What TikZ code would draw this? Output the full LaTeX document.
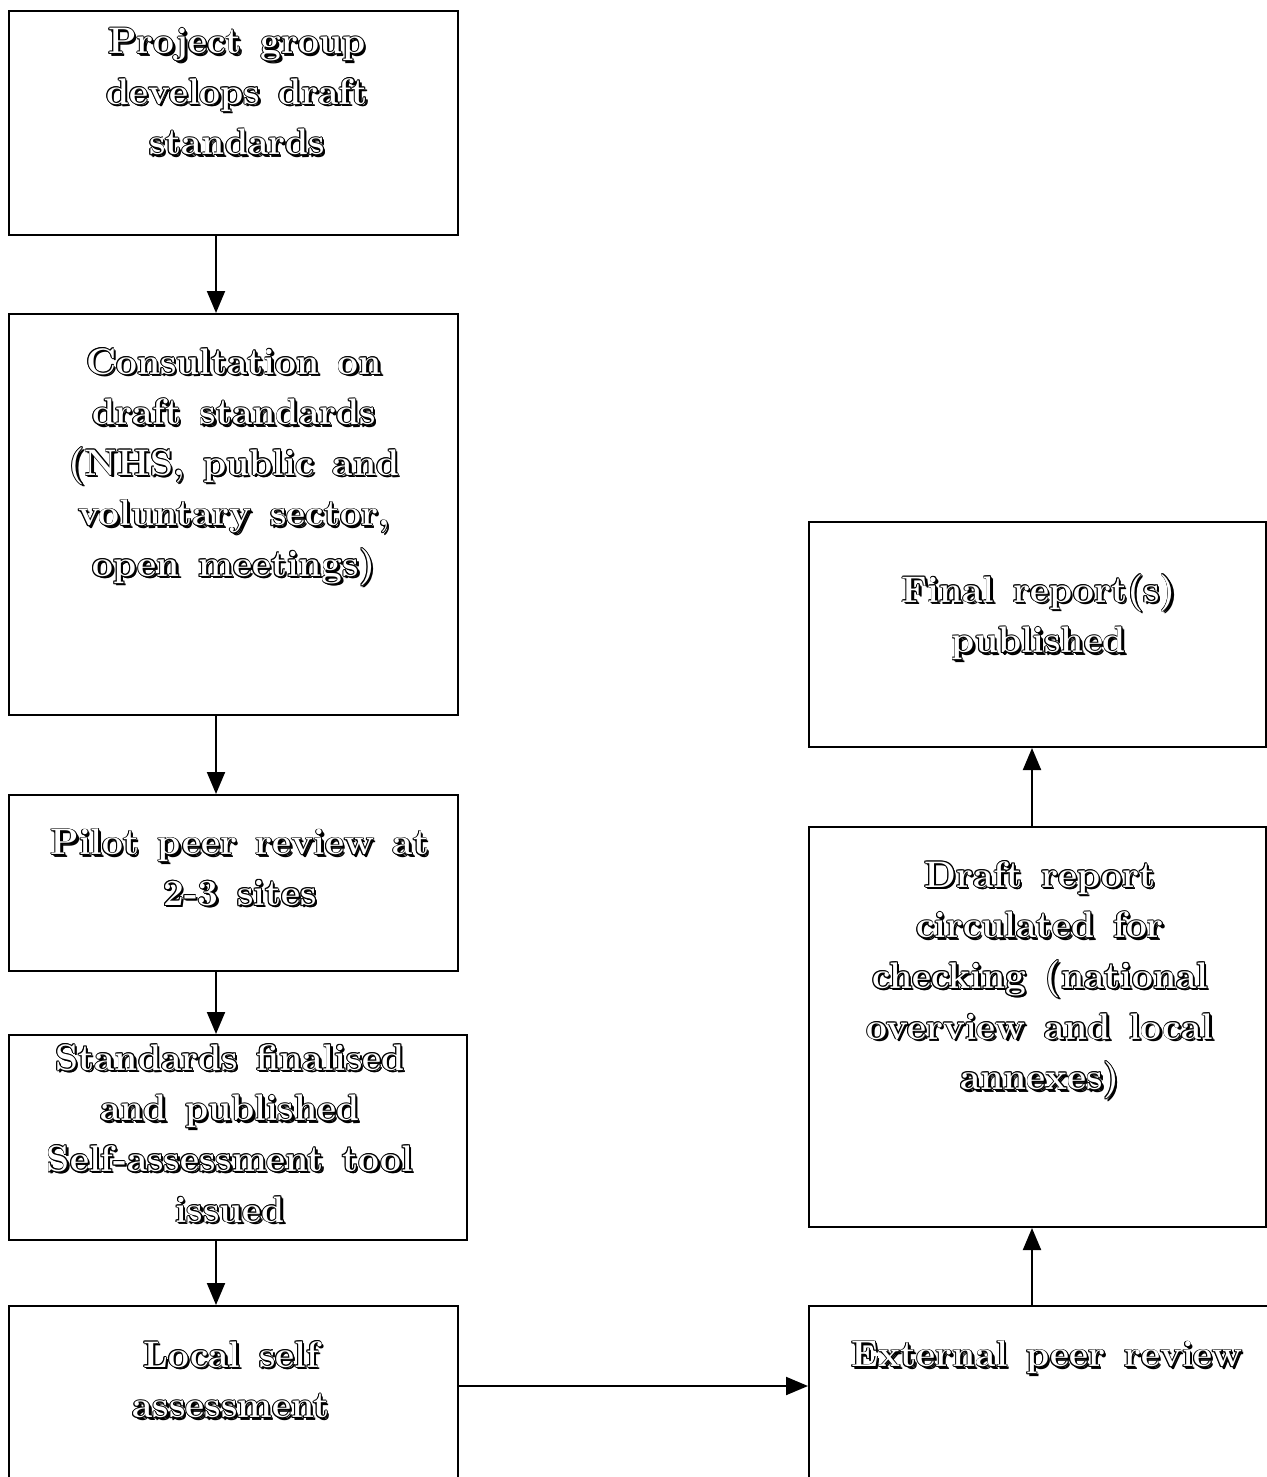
\documentclass[tikz,border=0pt]{standalone}
\usetikzlibrary{arrows.meta}
% one zero-width copy of a text, shifted by #1 across and #2 up
\newcommand\cpy[3]{\makebox[0pt][l]{\hspace*{#1}\raisebox{#2}{#3}}}
% outlined lettering with a drop shadow
\newcommand\olt[1]{{\spaceskip=0.5em plus 0.1em\relax
  \color{black}%
  \cpy{0.9pt}{-0.9pt}{#1}\cpy{1.2pt}{-1.2pt}{#1}%
  \cpy{0.45pt}{0pt}{#1}\cpy{-0.45pt}{0pt}{#1}%
  \cpy{0pt}{0.45pt}{#1}\cpy{0pt}{-0.45pt}{#1}%
  \cpy{0.32pt}{0.32pt}{#1}\cpy{-0.32pt}{0.32pt}{#1}%
  \cpy{0.32pt}{-0.32pt}{#1}\cpy{-0.32pt}{-0.32pt}{#1}%
  \textcolor{white}{#1}}}
\tikzset{
  box/.style={draw, line width=1pt, inner sep=0pt, anchor=north west},
  txt/.style={anchor=north, inner sep=0pt, align=center,
    font=\fontsize{18.5}{25.3}\selectfont\bfseries},
  arr/.style={line width=1pt, -{Triangle[length=11pt,width=9pt]}}
}
\begin{document}
\begin{tikzpicture}[x=0.5pt,y=-0.5pt]
\useasboundingbox (0,0) rectangle (1266,1477);
% boxes of the left column
\node[box, minimum width=224.5pt, minimum height=112pt] (b1) at (8,10) {};
\node[box, minimum width=224.5pt, minimum height=200.5pt] (b2) at (8,313) {};
\node[box, minimum width=224.5pt, minimum height=88pt] (b3) at (8,794) {};
\node[box, minimum width=229pt, minimum height=102.5pt] (b4) at (8,1034) {};
\node[box, minimum width=224.5pt, minimum height=150pt] (b5) at (8,1305) {};
% boxes of the right column
\node[box, minimum width=235pt, minimum height=150pt] (b6) at (808,1305) {};
\node[box, minimum width=228.5pt, minimum height=200pt] (b7) at (808,826) {};
\node[box, minimum width=228.5pt, minimum height=112.5pt] (b8) at (808,521) {};
% labels
\node[txt] (t1) at (237,27) {\olt{Project group}\\\olt{develops draft}\\\olt{standards}};
\node[txt] (t2) at (234,347) {\olt{Consultation on}\\\olt{draft standards}\\\olt{(NHS, public and}\\\olt{voluntary sector,}\\\olt{open meetings)}};
\node[txt] (t3) at (240,828) {\olt{Pilot peer review at}\\\olt{2-3 sites}};
\node[txt] (t4) at (230,1043) {\olt{Standards finalised}\\\olt{and published}\\\olt{Self-assessment tool}\\\olt{issued}};
\node[txt] (t5) at (231,1340) {\olt{Local self}\\\olt{assessment}};
\node[txt] (t6) at (1047,1340) {\olt{External peer review}};
\node[txt] (t7) at (1040,860) {\olt{Draft report}\\\olt{circulated for}\\\olt{checking (national}\\\olt{overview and local}\\\olt{annexes)}};
\node[txt] (t8) at (1039,573) {\olt{Final report(s)}\\\olt{published}};
% connector guides
\coordinate (ax) at (216,0);
\coordinate (bx) at (1032,0);
\coordinate (hy) at (0,1386);
% connectors
\draw[arr] (ax |- b1.south) -- (ax |- b2.north);
\draw[arr] (ax |- b2.south) -- (ax |- b3.north);
\draw[arr] (ax |- b3.south) -- (ax |- b4.north);
\draw[arr] (ax |- b4.south) -- (ax |- b5.north);
\draw[arr] (b5.east |- hy) -- (b6.west |- hy);
\draw[arr] (bx |- b6.north) -- (bx |- b7.south);
\draw[arr] (bx |- b7.north) -- (bx |- b8.south);
\end{tikzpicture}
\end{document}
